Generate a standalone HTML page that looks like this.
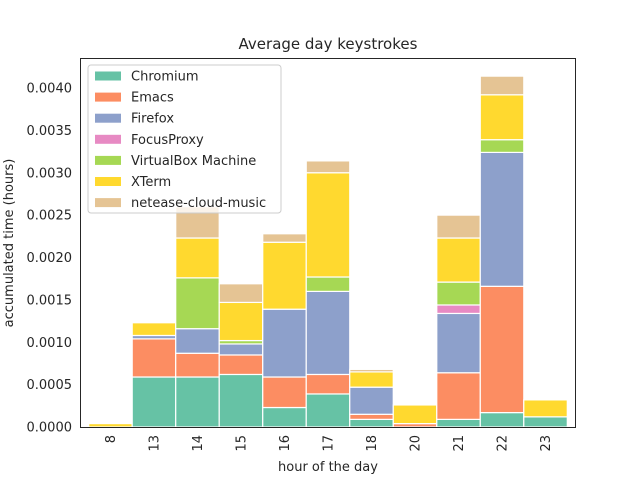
<!DOCTYPE html>
<html><head><meta charset="utf-8"><style>
body{margin:0;background:#fff;}
svg text{font-family:"DejaVu Sans","Liberation Sans",sans-serif;fill:#262626;}
</style></head><body>
<svg id="chart" width="640" height="480" xmlns="http://www.w3.org/2000/svg">
<rect width="640" height="480" fill="#fff"/>
<text x="328" y="49" text-anchor="middle" font-size="15">Average day keystrokes</text>
<g id="bars"></g>
<g id="yticks"></g>
<g id="xticks"></g>
<rect x="80.5" y="58.5" width="495" height="369" fill="none" stroke="#262626" stroke-width="1"/>
<text x="328" y="471" text-anchor="middle" font-size="13">hour of the day</text>
<text transform="translate(13,243) rotate(-90)" text-anchor="middle" font-size="13">accumulated time (hours)</text>
<g id="legend"></g>
</svg>
<script>
const hours = ["8","13","14","15","16","17","18","20","21","22","23"];
const seriesNames = ["Chromium","Emacs","Firefox","FocusProxy","VirtualBox Machine","XTerm","netease-cloud-music"];
const chromium = [0,0.00059,0.00059,0.00062,0.00023,0.00039,0.00009,0,0.00009,0.00017,0.00012];
const emacs = [0,0.00045,0.00028,0.00023,0.00036,0.00023,0.00006,0.00004,0.00055,0.00149,0];
const firefox = [0,0.00004,0.00029,0.00013,0.00080,0.00098,0.00032,0,0.00070,0.00158,0];
const focusProxy = [0,0,0,0,0,0,0,0,0.00010,0,0];
const virtualBox = [0,0,0.00060,0.00004,0,0.00017,0,0,0.00027,0.00015,0];
const xterm = [0.00004,0.00015,0.00047,0.00045,0.00079,0.00123,0.00018,0.00022,0.00052,0.00053,0.00020];
const netease = [0,0,0.00037,0.00022,0.00010,0.00014,0.00003,0,0.00027,0.00022,0];
const yTickValues = [0,0.0005,0.001,0.0015,0.002,0.0025,0.003,0.0035,0.004];
const yTickLabels = ["0.0000","0.0005","0.0010","0.0015","0.0020","0.0025","0.0030","0.0035","0.0040"];

const series = [chromium,emacs,firefox,focusProxy,virtualBox,xterm,netease];
const colors = ["#66c2a5","#fc8d62","#8da0cb","#e78ac3","#a6d854","#ffd92f","#e5c494"];
const NS="http://www.w3.org/2000/svg";
const px0=80, px1=576, py0=427, pyTop=58;
const yMax = 0.004354;
function yScale(v){return py0-(v/yMax)*(py0-pyTop);}
function xScale(i){return px0+(i+0.7)/11.4*(px1-px0);}
const bw=(px1-px0)/11.4;
function mk(tag,attrs,parent){const e=document.createElementNS(NS,tag);for(const k in attrs)e.setAttribute(k,attrs[k]);parent.appendChild(e);return e;}
const gb=document.getElementById('bars');
hours.forEach((h,i)=>{
  let base=0;
  series.forEach((s,j)=>{
    const v=s[i];
    if(v<=0)return;
    const y1=yScale(base+v), y0=yScale(base);
    const r=mk('rect',{x:xScale(i)-bw/2,y:y1,width:bw,height:y0-y1,fill:colors[j],stroke:'#fff','stroke-width':1.2},gb);
    
    
    base+=v;
  });
});
const gy=document.getElementById('yticks');
yTickValues.forEach((v,i)=>{
  const t=mk('text',{x:72,y:yScale(v)+4.5,'text-anchor':'end','font-size':13},gy);
  t.textContent=yTickLabels[i];
  
  
});
const gx=document.getElementById('xticks');
hours.forEach((h,i)=>{
  const x=xScale(i)+4.5;
  const t=mk('text',{transform:`translate(${x},435) rotate(-90)`,'text-anchor':'end','font-size':13},gx);
  t.textContent=h;
  
  
});
const gl=document.getElementById('legend');
const lb=mk('rect',{x:88,y:65,width:193,height:148,rx:3,fill:'#fff','fill-opacity':0.8,stroke:'#ccc'},gl);


seriesNames.forEach((n,j)=>{
  const y=76+j*21.1;
  const p=mk('rect',{x:95,y:y-4.5,width:26,height:9,fill:colors[j]},gl);
  
  
  const t=mk('text',{x:131,y:y+4.5,'font-size':13},gl);
  t.textContent=n;
  
  
});
</script>
</body></html>
